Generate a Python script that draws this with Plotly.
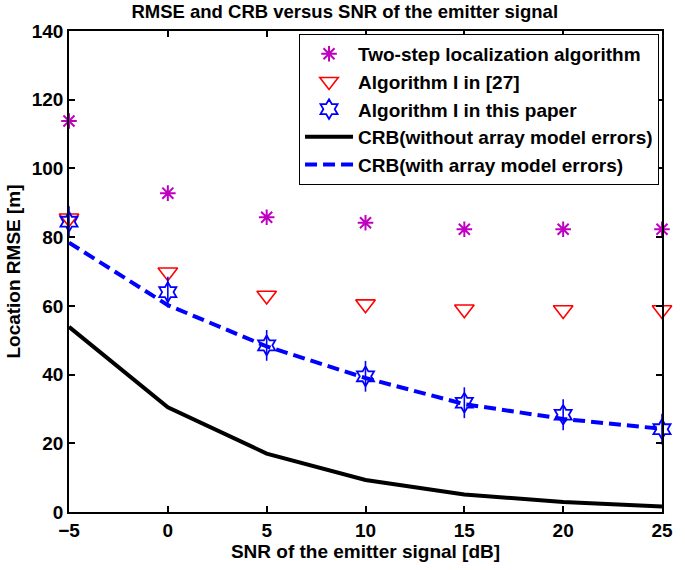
import plotly.graph_objects as go

# SNR values (dB)
snr = [-5, 0, 5, 10, 15, 20, 25]

# location RMSE / CRB (m)
two_step = [113.8, 92.8, 85.8, 84.2, 82.3, 82.3, 82.3]
alg_ref27 = [85.5, 69.8, 63.0, 60.5, 59.0, 58.8, 58.8]
alg_paper = [84.5, 64.0, 48.5, 39.5, 31.8, 28.3, 24.1]
crb_no_err = [53.9, 30.5, 17.0, 9.3, 5.1, 2.9, 1.6]
crb_err = [78.4, 60.2, 48.2, 39.0, 31.4, 27.1, 24.2]

x_ticks = [-5, 0, 5, 10, 15, 20, 25]
y_ticks = [0, 20, 40, 60, 80, 100, 120, 140]

FONT = "Liberation Sans, Arial, Helvetica, sans-serif"

fig = go.Figure()

fig.add_trace(go.Scatter(
    x=snr, y=crb_no_err, mode="lines",
    name="CRB(without array model errors)",
    line=dict(color="black", width=4),
    legendrank=4, cliponaxis=False,
))
fig.add_trace(go.Scatter(
    x=snr, y=crb_err, mode="lines",
    name="CRB(with array model errors)",
    line=dict(color="#0000ff", width=4, dash="12px,6px"),
    legendrank=5, cliponaxis=False,
))
fig.add_trace(go.Scatter(
    x=snr, y=two_step, mode="markers",
    name="Two-step localization algorithm",
    marker=dict(symbol="asterisk-open", size=13, color="#c000c0",
                line=dict(color="#c000c0", width=2)),
    legendrank=1, cliponaxis=False,
))
fig.add_trace(go.Scatter(
    x=snr, y=alg_ref27, mode="markers",
    name="Algorithm I in [27]",
    marker=dict(symbol="triangle-down-open", size=17, color="#ff0000",
                line=dict(color="#ff0000", width=1.6)),
    legendrank=2, cliponaxis=False,
))
# vertical stroke through the hexagram, as in the original marker
fig.add_trace(go.Scatter(
    x=snr, y=alg_paper, mode="markers",
    showlegend=False, hoverinfo="skip",
    marker=dict(symbol="line-ns-open", size=22, color="#0000ff",
                line=dict(color="#0000ff", width=1.6)),
    cliponaxis=False,
))
fig.add_trace(go.Scatter(
    x=snr, y=alg_paper, mode="markers",
    name="Algorithm I in this paper",
    marker=dict(symbol="hexagram-open", size=15, color="#0000ff",
                line=dict(color="#0000ff", width=1.8)),
    legendrank=3, cliponaxis=False,
))

axis_common = dict(
    showgrid=False, zeroline=False,
    showline=True, linecolor="black", linewidth=1.5, mirror="ticks",
    ticks="inside", ticklen=6, tickwidth=1.5, tickcolor="black",
    tickfont=dict(family=FONT, size=19, color="black", weight="bold"),
)

fig.update_layout(
    width=685, height=570,
    margin=dict(l=67, r=14, t=31, b=53),
    paper_bgcolor="white", plot_bgcolor="white",
    font=dict(family=FONT, color="black"),
    title=dict(
        text="RMSE and CRB versus SNR of the emitter signal",
        font=dict(family=FONT, size=18.5, color="black", weight="bold"),
        x=0.465, xref="paper", xanchor="center",
        y=1 - 12 / 570, yref="container", yanchor="middle",
    ),
    xaxis=dict(
        range=[-5, 25], tickvals=x_ticks,
        title=dict(text="SNR of the emitter signal [dB]", standoff=4,
                   font=dict(family=FONT, size=19, color="black", weight="bold")),
        **axis_common,
    ),
    yaxis=dict(
        range=[0, 140], tickvals=y_ticks,
        title=dict(text="Location RMSE [m]", standoff=6,
                   font=dict(family=FONT, size=19, color="black", weight="bold")),
        **axis_common,
    ),
    legend=dict(
        x=0.995, y=0.994, xanchor="right", yanchor="top",
        bgcolor="white", bordercolor="black", borderwidth=1,
        font=dict(family=FONT, size=19, color="black", weight="bold"),
        itemwidth=48,
    ),
    showlegend=True,
)

# drop the default 8px body margin so the figure sits at the page corner
fig.write_html(
    "out.html",
    config={"displayModeBar": False},
    post_script="document.body.style.margin='0px';",
)
